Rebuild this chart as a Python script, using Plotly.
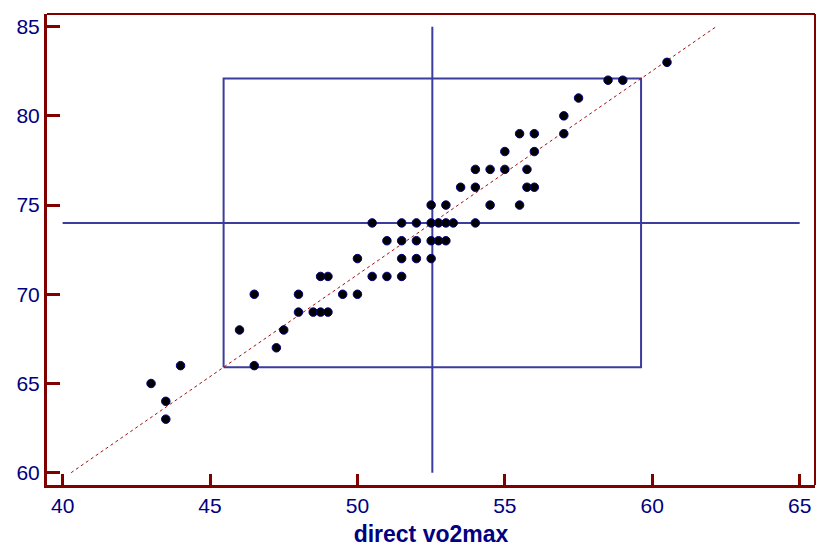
import plotly.graph_objects as go

# --- data ---
direct_vo2max = [43, 43.5, 43.5, 44, 46, 46.5, 46.5, 47.25, 47.5, 48, 48, 48.5, 48.75, 49,
                 48.75, 49, 49.5, 50, 50, 50.5, 51, 51.5, 50.5, 51, 51.5, 52, 51.5, 52,
                 51.5, 52, 52.5, 52.5, 52.75, 53, 52.5, 52.75, 53, 53.25, 54, 52.5, 53,
                 53.5, 54, 54, 54.5, 54.5, 55.5, 55.75, 56, 55, 55.75, 55, 56, 55.5, 56,
                 57, 57, 57.5, 58.5, 59, 60.5]
estimated_vo2max = [65, 64, 63, 66, 68, 66, 70, 67, 68, 69, 70, 69, 69, 69,
                    71, 71, 70, 70, 72, 71, 71, 71, 74, 73, 73, 73, 72, 72,
                    74, 74, 72, 73, 73, 73, 74, 74, 74, 74, 74, 75, 75,
                    76, 76, 77, 77, 75, 75, 76, 76, 77, 77, 78, 78, 79, 79,
                    79, 80, 81, 82, 82, 83]

mean_x = 52.54
mean_y = 74.0
box_x = [45.46, 59.62]        # mean +/- 2 SD (x)
box_y = [65.91, 82.09]        # mean +/- 2 SD (y)
line_y = [60, 85]             # extent of the fitted line
x_ticks = [40, 45, 50, 55, 60, 65]
y_ticks = [60, 65, 70, 75, 80, 85]
x_title = "direct vo2max"

slope = (box_y[1] - box_y[0]) / (box_x[1] - box_x[0])
line_x = [mean_x + (v - mean_y) / slope for v in line_y]

NAVY = "#000080"
AXIS = "#800000"
BLUE = "#3c3c9c"

fig = go.Figure()

# crosshair at means
fig.add_trace(go.Scatter(x=[x_ticks[0], x_ticks[-1]], y=[mean_y, mean_y], mode="lines",
                         line=dict(color=BLUE, width=2), hoverinfo="skip"))
fig.add_trace(go.Scatter(x=[mean_x, mean_x], y=[y_ticks[0], y_ticks[-1]], mode="lines",
                         line=dict(color=BLUE, width=2), hoverinfo="skip"))
# box
fig.add_trace(go.Scatter(x=[box_x[0], box_x[1], box_x[1], box_x[0], box_x[0]],
                         y=[box_y[0], box_y[0], box_y[1], box_y[1], box_y[0]], mode="lines",
                         line=dict(color=BLUE, width=2), hoverinfo="skip"))
# fitted line
fig.add_trace(go.Scatter(x=line_x, y=line_y, mode="lines",
                         line=dict(color="#a01010", width=1, dash="dot"), hoverinfo="skip"))
# points
fig.add_trace(go.Scatter(x=direct_vo2max, y=estimated_vo2max, mode="markers",
                         marker=dict(size=8.5, color="black", line=dict(color=NAVY, width=1))))

fig.update_layout(
    width=817, height=547,
    margin=dict(l=47, r=2, t=14, b=62, autoexpand=False),
    paper_bgcolor="white", plot_bgcolor="white",
    showlegend=False,
    font=dict(family="Liberation Sans, Arial, sans-serif", color=NAVY, size=21),
)
fig.update_xaxes(range=[39.47, 65.52], tickvals=x_ticks, showgrid=False, zeroline=False,
                 showline=True, linecolor=AXIS, linewidth=3, ticks="inside", ticklen=11,
                 tickwidth=3, tickcolor=AXIS, tickfont=dict(size=21, color=NAVY),
                 title=dict(text="<b>" + x_title + "</b>", font=dict(size=23, color=NAVY),
                            standoff=10))
fig.update_yaxes(range=[59.31, 85.71], tickvals=y_ticks, showgrid=False, zeroline=False,
                 showline=True, linecolor=AXIS, linewidth=3, ticks="inside", ticklen=13,
                 tickwidth=3, tickcolor=AXIS, tickfont=dict(size=21, color=NAVY))

# top and right frame
fig.add_shape(type="line", xref="paper", yref="paper", x0=0, x1=1, y0=1, y1=1,
              line=dict(color=AXIS, width=2))
fig.add_shape(type="line", xref="paper", yref="paper", x0=1, x1=1, y0=0, y1=1,
              line=dict(color=AXIS, width=2))

# remove the page's default body margin so the figure fills the window exactly
fig.write_html("out.html", config={"displayModeBar": False},
               post_script="document.body.style.margin='0';document.body.style.overflow='hidden';")
